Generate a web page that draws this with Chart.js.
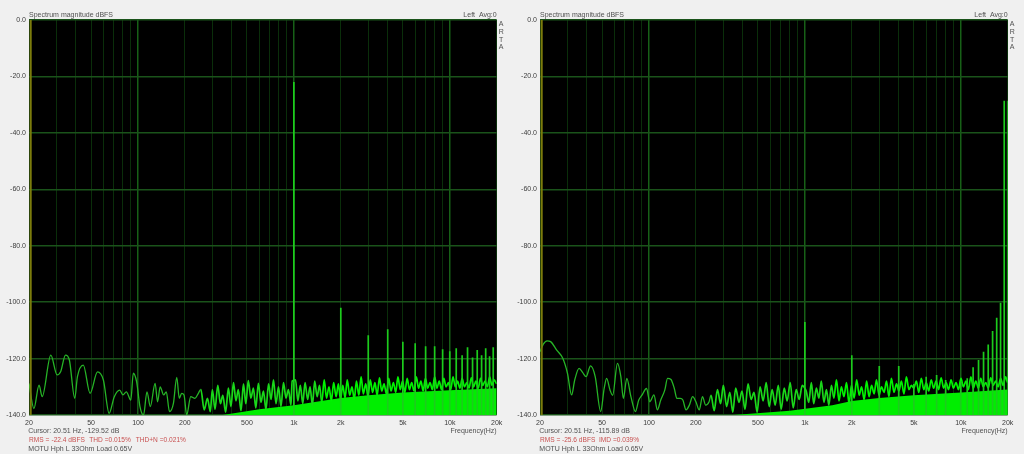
<!DOCTYPE html>
<html>
<head>
<meta charset="utf-8">
<script src="https://cdn.jsdelivr.net/npm/chart.js@4.4.1/dist/chart.umd.min.js"></script>
<style>
  html, body { margin: 0; padding: 0; background: #f0f0f0; width: 1024px; height: 454px; overflow: hidden; }
  canvas { position: absolute; top: 0; }
  #espectro-thd { left: 0; }
  #espectro-imd { left: 511px; }
</style>
</head>
<body>
<canvas id="espectro-thd" width="511" height="454"></canvas>
<canvas id="espectro-imd" width="513" height="454"></canvas>
<script>
// eixos (ARTA): grade log em frequência, dBFS de -140 a 0
const gridFreqs = [20, 30, 40, 50, 60, 70, 80, 90, 100, 200, 300, 400, 500, 600, 700, 800, 900,
  1000, 2000, 3000, 4000, 5000, 6000, 7000, 8000, 9000, 10000, 20000];
const decadeFreqs = [100, 1000, 10000];
const tickFreqs = [20, 50, 100, 200, 500, 1000, 2000, 5000, 10000, 20000];
const tickLabels = ['20', '50', '100', '200', '500', '1k', '2k', '5k', '10k', '20k'];
const cursorFreq = 20.51;

// --- Esquerda: THD (tom de 1 kHz) ---
const lfFreqL = [20, 21.5, 23.2, 24.3, 27.6, 30.3, 31.9, 34.3, 36.3, 39.3,
  40.9, 44.6, 49.3, 55, 60, 65.3, 70.5, 76.3, 80.1, 84.2,
  90, 93.3, 98, 103, 108.6, 114.2, 120, 128.8, 133.6, 138.8,
  146.2, 151.9, 159.3, 168.8, 177.3, 184.1, 190.6, 197.4, 205.3, 218,
  232, 244, 253, 266, 279, 291];
const lfDbL = [-128.8, -137.7, -129.4, -133.5, -118.8, -125.8, -124.7, -118.8, -120.5, -134.1,
  -126.4, -122.3, -132.3, -124.7, -127.6, -139.4, -133.5, -131.2, -132.9, -131.8,
  -134.7, -125.2, -128.2, -137, -140, -131.8, -137, -128.8, -135.3, -130,
  -132.9, -131.8, -138.8, -135.9, -126.7, -134.1, -132.3, -132.9, -140, -133.5,
  -134.1, -132.3, -130.9, -138.2, -134.1, -138.8];

const noiseFreqL = [300, 312, 325, 338, 350, 365, 380, 395, 410, 425,
  440, 458, 475, 492, 510, 530, 550, 570, 592, 615,
  638, 662, 688, 714, 740, 768, 797, 827, 858, 890,
  923, 958, 975, 1025, 1060, 1100, 1140, 1180, 1225, 1270,
  1315, 1360, 1410, 1460, 1510, 1565, 1620, 1680, 1740, 1800,
  1865, 1930, 1990, 2060, 2130, 2200, 2280, 2360, 2440, 2520,
  2610, 2700, 2790, 2890, 2990, 3090, 3200, 3310, 3420, 3540,
  3660, 3790, 3920, 4060, 4200, 4350, 4500, 4650, 4810, 4980,
  5150, 5330, 5510, 5700, 5900, 6100, 6310, 6530, 6750, 6980,
  7220, 7470, 7730, 8000, 8270, 8560, 8850, 9160, 9470, 9800,
  10140, 10490, 10850, 11220, 11610, 12010, 12420, 12850, 13290, 13750,
  14220, 14710, 15220, 15740, 16280, 16840, 17420, 18020, 18640, 19280,
  19950];
const noiseDbL = [-131, -138, -129.5, -136, -133, -139, -130.5, -137, -128.5, -135,
  -131, -138.5, -129, -136, -127.8, -134, -130.5, -137.5, -128.8, -135.5,
  -131.5, -138, -129, -134.5, -127.5, -136, -130, -137, -128.5, -134,
  -131, -136.5, -128, -127.5, -135, -129.5, -136, -128.5, -134.5, -130,
  -136.5, -128, -133.5, -129.5, -135.5, -127.5, -134, -130, -135, -128.5,
  -133.5, -129, -134.5, -129.5, -134, -127.5, -133, -130, -134.5, -128,
  -133, -126.5, -132.5, -129, -133.5, -127.5, -132, -128.5, -133, -126.8,
  -131.5, -129, -132.5, -127, -131.5, -128.5, -132, -126.5, -131, -128,
  -132, -127, -131, -128.5, -131.5, -126.5, -130.5, -128, -131.5, -127,
  -130.5, -128.5, -131, -126.5, -130.5, -128, -131, -127, -130, -128.5,
  -131, -126.5, -130, -128, -130.5, -127, -130, -128.5, -130.5, -126.8,
  -130, -128, -130.5, -127, -129.5, -128, -130, -126.5, -129.5, -127.5,
  -129];

// topo da faixa sólida de ruído
const floorFreqL = [350, 600, 1000, 1500, 2000, 3000, 5000, 10000, 20000];
const floorDbL = [-140, -138, -136.5, -135, -134, -133, -132, -131.2, -130.5];

const harmFreqL = [1000, 2000, 3000, 4000, 5000, 6000, 7000, 8000, 9000, 10000,
  11000, 12000, 13000, 14000, 15000, 16000, 17000, 18000, 19000];
const harmDbL = [-22, -102, -111.7, -109.6, -114, -114.6, -115.6, -115.6, -116.7, -117.4,
  -116.3, -118.8, -116, -119.6, -117, -118.8, -116.3, -119.2, -116];

// --- Direita: IMD (19 kHz + 20 kHz) ---
const lfFreqR = [20, 21, 22.2, 23.4, 25.6, 28, 30, 31.9, 33.4, 35.6,
  37.6, 39.5, 42.2, 45.2, 49, 51.6, 53.5, 56.3, 58.5, 62.8,
  66, 68.5, 72.1, 76.6, 81.9, 86, 90.4, 96.4, 101.3, 107.6,
  113.2, 119, 126.3, 131.6, 138.4, 145.4, 151, 158.6, 165, 172.9,
  181.6, 190.6, 200, 210, 220.5, 231, 243];
const lfDbR = [-117.6, -114.9, -113.7, -114, -117, -119.9, -125.2, -132.9, -127.6, -123.5,
  -125, -126.4, -122.6, -126.4, -138.8, -130.6, -127, -131.2, -133, -121.7,
  -126.4, -134.1, -127, -133.5, -138.8, -134.7, -132.9, -130.6, -135.3, -132.9,
  -138.2, -134.7, -131.2, -127, -127.4, -130.6, -134.1, -134.1, -134.7, -138.2,
  -136.5, -133.5, -135.3, -138.2, -133.5, -136.5, -135.3];

const noiseFreqR = [250, 262, 275, 288, 300, 315, 330, 345, 360, 378,
  395, 413, 432, 452, 472, 494, 516, 540, 565, 590,
  617, 645, 675, 705, 737, 770, 805, 842, 880, 920,
  962, 985, 1020, 1060, 1100, 1140, 1185, 1230, 1275, 1325,
  1375, 1425, 1480, 1535, 1595, 1655, 1715, 1780, 1850, 1920,
  1990, 2070, 2150, 2230, 2310, 2400, 2490, 2580, 2680, 2780,
  2880, 2990, 3100, 3220, 3340, 3460, 3590, 3730, 3870, 4010,
  4160, 4320, 4480, 4650, 4820, 5000, 5190, 5380, 5580, 5790,
  6010, 6230, 6460, 6700, 6950, 7210, 7480, 7760, 8050, 8350,
  8660, 8980, 9320, 9670, 10030, 10400, 10790, 11190, 11610, 12040,
  12490, 12960, 13440, 13940, 14460, 15000, 15560, 16140, 16740, 17370,
  18010, 18690, 19380, 19950];
const noiseDbR = [-133, -138.5, -131, -136, -129.5, -137, -132, -139, -130.5, -135.5,
  -131.5, -138, -129, -134.5, -132, -139, -130, -135, -128.5, -137,
  -131, -136.5, -129.5, -138, -130.5, -135, -128.5, -137.5, -131, -134.5,
  -129.5, -130, -131.5, -135.5, -128.5, -136, -130.5, -134, -128, -135.5,
  -131, -136.5, -129.5, -134, -127.5, -135, -130, -133.5, -128.5, -136,
  -129.5, -134, -127.5, -133, -130, -134.5, -128, -133.5, -129.5, -132.5,
  -127.5, -133, -130, -132, -128, -133.5, -127, -132, -129, -131.5,
  -128, -132.5, -126.5, -131, -129.5, -130.5, -128, -132, -127, -131,
  -128.5, -131.5, -127.5, -130.5, -128, -131, -126.8, -130.5, -128.5, -131,
  -127.5, -130.5, -128.5, -131, -127, -130, -128, -131, -126.5, -130.5,
  -128, -130.5, -127, -130, -128.5, -130.5, -126.8, -129.5, -128, -130,
  -127, -129.5, -126.5, -128.5];

const floorFreqR = [350, 800, 1500, 2000, 3000, 5000, 10000, 20000];
const floorDbR = [-140, -138.5, -136.5, -135, -134, -133, -132, -131];

const harmFreqR = [1000, 2000, 3000, 4000, 5000, 6000, 7000, 8000, 10000, 11000,
  12000, 13000, 14000, 15000, 16000, 17000, 18000, 19000, 20000];
const harmDbR = [-107, -118.8, -122.6, -122.6, -129, -126.4, -125.8, -127.6, -128.2, -127,
  -123.1, -120.5, -117.6, -115, -110.2, -105.5, -100.2, -28.6, -28.6];

Chart.defaults.font.family = "'Liberation Sans', Arial, sans-serif";
Chart.defaults.font.size = 7;
Chart.defaults.color = '#3c3c3c';

function pontos(fs, ys) {
  return fs.map((f, i) => ({ x: f, y: ys[i] }));
}

// cada raia vira uma haste vertical a partir do fundo da escala
function hastes(fs, ys) {
  const out = [];
  fs.forEach((f, i) => out.push({ x: f, y: -140 }, { x: f, y: ys[i] }, { x: f, y: null }));
  return out;
}

const fundoPreto = {
  id: 'fundoPreto',
  beforeDraw(chart) {
    const { ctx, chartArea: a } = chart;
    ctx.save();
    ctx.fillStyle = '#000';
    ctx.fillRect(a.left, a.top, a.right - a.left, a.bottom - a.top);
    ctx.restore();
  }
};

function gerarEspectro(id, padRight, d) {
  const canvas = document.getElementById(id);
  const ctx = canvas.getContext('2d');

  const textos = {
    id: 'textos',
    afterDraw(chart) {
      const c = chart.ctx, a = chart.chartArea;
      c.save();
      c.font = "7px 'Liberation Sans', Arial, sans-serif";
      c.textBaseline = 'middle';
      c.fillStyle = '#505050';
      c.textAlign = 'left';
      c.fillText('Spectrum magnitude dBFS', a.left, 15);
      c.fillText(d.cursor, a.left - 0.7, 431);
      c.fillText('MOTU Hph L 33Ohm Load 0.65V', a.left - 0.7, 449);
      c.textAlign = 'right';
      c.fillText('Left  Avg:0', a.right, 15);
      c.fillText('Frequency(Hz)', a.right, 431);
      c.textAlign = 'center';
      ['A', 'R', 'T', 'A'].forEach((l, i) => c.fillText(l, a.right + 4.5, 24 + i * 7.8));
      c.textAlign = 'left';
      c.fillStyle = '#c85050';
      c.font = "6.6px 'Liberation Sans', Arial, sans-serif";
      d.rms.forEach(([txt, dx]) => c.fillText(txt, a.left + dx, 440));
      c.restore();
    }
  };

  new Chart(ctx, {
    type: 'line',
    data: {
      datasets: [
        {
          label: 'cursor',
          data: [{ x: cursorFreq, y: -140 }, { x: cursorFreq, y: 0 }],
          borderColor: '#7c7c0c',
          borderWidth: 2,
          pointRadius: 0,
          order: 0
        },
        {
          label: 'raias',
          data: hastes(d.harmFreq, d.harmDb),
          borderColor: '#1ccc1c',
          borderWidth: 1.7,
          pointRadius: 0,
          spanGaps: false,
          order: 1
        },
        {
          label: 'espectro',
          data: pontos(d.lfFreq.concat(d.noiseFreq), d.lfDb.concat(d.noiseDb)),
          pointRadius: 0,
          cubicInterpolationMode: 'monotone',
          segment: {
            borderColor: s => s.p0.parsed.x < 250 ? '#26b426' : (s.p0.parsed.x < 1500 ? '#1ad81a' : '#00f400'),
            borderWidth: s => s.p0.parsed.x < 250 ? 1.3 : 1.7
          },
          order: 2
        },
        {
          label: 'piso',
          data: pontos(d.floorFreq, d.floorDb),
          borderWidth: 0,
          borderColor: 'rgba(0,0,0,0)',
          backgroundColor: '#00ee00',
          fill: { value: -140 },
          pointRadius: 0,
          order: 3
        }
      ]
    },
    options: {
      responsive: false,
      animation: false,
      devicePixelRatio: 1,
      layout: { padding: { top: 20, right: padRight, left: 0, bottom: 0 } },
      plugins: { legend: { display: false }, tooltip: { enabled: false } },
      scales: {
        x: {
          type: 'logarithmic',
          min: 20,
          max: 20000,
          afterBuildTicks: s => { s.ticks = gridFreqs.map(v => ({ value: v })); },
          afterFit: s => { s.height = 39; },
          ticks: {
            autoSkip: false,
            maxRotation: 0,
            padding: 4,
            color: '#3c3c3c',
            callback: v => {
              const i = tickFreqs.indexOf(v);
              return i >= 0 ? tickLabels[i] : '';
            }
          },
          grid: {
            drawTicks: false,
            color: c => decadeFreqs.includes(c.tick && c.tick.value) ? '#176017' : '#0a2e0a',
            lineWidth: c => decadeFreqs.includes(c.tick && c.tick.value) ? 1.5 : 1
          },
          border: { display: false }
        },
        y: {
          min: -140,
          max: 0,
          afterFit: s => { s.width = 29; },
          ticks: {
            stepSize: 20,
            padding: 3,
            color: '#3c3c3c',
            callback: v => v.toFixed(1)
          },
          grid: { drawTicks: false, color: '#1a531a', lineWidth: 1.5 },
          border: { display: false }
        }
      }
    },
    plugins: [fundoPreto, textos]
  });
}

gerarEspectro('espectro-thd', 14.3, {
  lfFreq: lfFreqL, lfDb: lfDbL,
  noiseFreq: noiseFreqL, noiseDb: noiseDbL,
  floorFreq: floorFreqL, floorDb: floorDbL,
  harmFreq: harmFreqL, harmDb: harmDbL,
  cursor: 'Cursor: 20.51 Hz, -129.52 dB',
  rms: [['RMS =', 0], ['-22.4 dBFS', 22.5], ['THD =0.015%', 60.3], ['THD+N =0.021%', 106.7]]
});

gerarEspectro('espectro-imd', 16.3, {
  lfFreq: lfFreqR, lfDb: lfDbR,
  noiseFreq: noiseFreqR, noiseDb: noiseDbR,
  floorFreq: floorFreqR, floorDb: floorDbR,
  harmFreq: harmFreqR, harmDb: harmDbR,
  cursor: 'Cursor: 20.51 Hz, -115.89 dB',
  rms: [['RMS =', 0], ['-25.6 dBFS', 22], ['IMD =0.039%', 59]]
});
</script>
</body>
</html>
